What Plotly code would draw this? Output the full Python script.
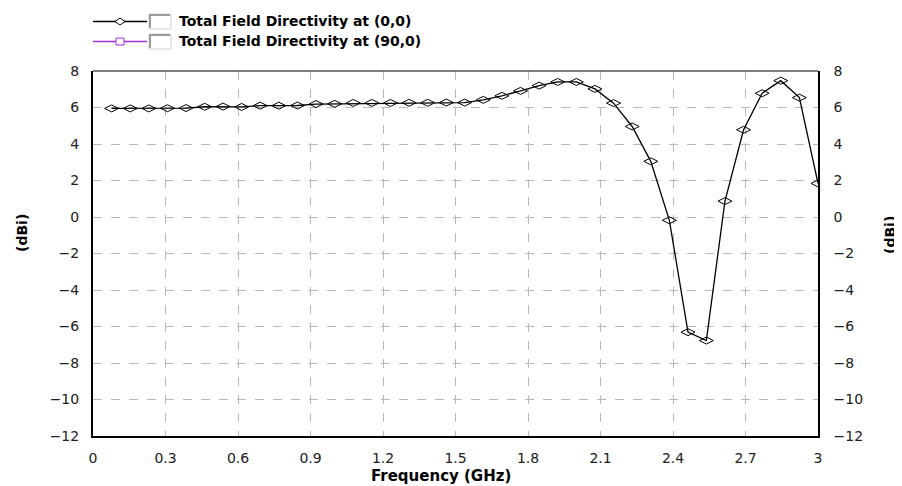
import plotly.graph_objects as go

# frequency samples (GHz) and total field directivity at (0,0) in dBi
freq = [0.077, 0.154, 0.231, 0.308, 0.385, 0.462, 0.538, 0.615, 0.692, 0.769,
        0.846, 0.923, 1.0, 1.077, 1.154, 1.231, 1.308, 1.385, 1.462, 1.538,
        1.615, 1.692, 1.769, 1.846, 1.923, 2.0, 2.077, 2.154, 2.231, 2.308,
        2.385, 2.462, 2.538, 2.615, 2.692, 2.769, 2.846, 2.923, 3.0]
dir_0_0 = [5.95, 5.95, 5.95, 5.96, 5.97, 6.04, 6.05, 6.03, 6.10, 6.10,
           6.11, 6.19, 6.20, 6.25, 6.25, 6.25, 6.26, 6.26, 6.27, 6.27,
           6.42, 6.64, 6.91, 7.20, 7.40, 7.40, 7.02, 6.24, 4.96, 3.05,
           -0.18, -6.31, -6.77, 0.87, 4.78, 6.78, 7.47, 6.54, 1.84]

legend_names = ["Total Field Directivity at (0,0)", "Total Field Directivity at (90,0)"]
legend_colors = ["#000000", "#a030e0"]

x_ticks = [0, 0.3, 0.6, 0.9, 1.2, 1.5, 1.8, 2.1, 2.4, 2.7, 3]
x_labels = ["0", "0.3", "0.6", "0.9", "1.2", "1.5", "1.8", "2.1", "2.4", "2.7", "3"]
y_ticks = list(range(-12, 9, 2))

W, H = 902, 486
OFF = 8  # page body margin of the html page
PLOT_L, PLOT_T, PLOT_W, PLOT_H = 93, 71, 725, 365  # plot box in screen pixels
FONT = "DejaVu Sans, Liberation Sans, Arial"

def px(x):
    return (x - PLOT_L) / PLOT_W

def py(y):
    return (PLOT_T + PLOT_H - y) / PLOT_H

fig = go.Figure()
fig.add_trace(go.Scatter(
    x = freq, y = dir_0_0, mode = "lines+markers", name = legend_names[0],
    line = dict(color = "black", width = 1.3),
    marker = dict(symbol = "diamond-wide-open", size = 10, color = "black",
                  line = dict(width = 1)),
    showlegend = False,
))
# keep the right-hand axis alive
fig.add_trace(go.Scatter(x = [], y = [], yaxis = "y2", showlegend = False))

grid = dict(showgrid = True, gridcolor = "#b8b8b8", gridwidth = 1, griddash = "dash")
tick_font = dict(family = FONT, size = 14, color = "#202020")

fig.update_layout(
    width = W, height = H,
    margin = dict(l = PLOT_L - OFF, t = PLOT_T - OFF,
                  r = W - (PLOT_L - OFF) - PLOT_W,
                  b = H - (PLOT_T - OFF) - PLOT_H),
    paper_bgcolor = "white", plot_bgcolor = "white",
    font = dict(family = FONT, size = 13, color = "black"),
    xaxis = dict(range = [0, 3], tickvals = x_ticks, ticktext = x_labels,
                 showline = True, linecolor = "black", linewidth = 2,
                 zeroline = False, ticks = "", tickfont = tick_font,
                 ticklabelstandoff = 8, **grid),
    yaxis = dict(range = [-12, 8], tickvals = y_ticks,
                 showline = True, linecolor = "black", linewidth = 2,
                 zeroline = False, ticks = "", tickfont = tick_font,
                 ticklabelstandoff = 9, **grid),
    yaxis2 = dict(range = [-12, 8], tickvals = y_ticks, overlaying = "y",
                  side = "right", showgrid = False, zeroline = False,
                  showline = True, linecolor = "black", linewidth = 1.5,
                  ticks = "", tickfont = tick_font, ticklabelstandoff = 11),
)

shapes = [
    # top frame edge
    dict(type = "line", xref = "paper", yref = "paper", x0 = 0, x1 = 1,
         y0 = 1, y1 = 1, line = dict(color = "black", width = 1.2)),
]
title_style = dict(xref = "paper", yref = "paper", showarrow = False,
                   xanchor = "center", yanchor = "middle")
annotations = [
    dict(text = "<b>Frequency (GHz)</b>", x = px(441), y = py(476),
         font = dict(size = 15), **title_style),
    dict(text = "<b>(dBi)</b>", x = px(22), y = py(233), textangle = -90,
         font = dict(size = 14), **title_style),
    dict(text = "<b>(dBi)</b>", x = px(890), y = py(235), textangle = -90,
         font = dict(size = 14), **title_style),
]

# hand-drawn legend with check boxes
for i, (name, color) in enumerate(zip(legend_names, legend_colors)):
    yc = 21.5 + 20 * i
    shapes.append(dict(type = "line", xref = "paper", yref = "paper",
                       x0 = px(93), x1 = px(147), y0 = py(yc), y1 = py(yc),
                       line = dict(color = color, width = 1.3)))
    if i == 0:
        path = "M {} {} L {} {} L {} {} L {} {} Z".format(
            px(115), py(yc), px(120), py(yc - 3.5),
            px(125), py(yc), px(120), py(yc + 3.5))
        shapes.append(dict(type = "path", xref = "paper", yref = "paper",
                           path = path, fillcolor = "white",
                           line = dict(color = color, width = 1)))
    else:
        shapes.append(dict(type = "rect", xref = "paper", yref = "paper",
                           x0 = px(116), x1 = px(124), y0 = py(yc - 3.5),
                           y1 = py(yc + 3.5), fillcolor = "white",
                           line = dict(color = color, width = 1)))
    shapes.append(dict(type = "rect", xref = "paper", yref = "paper",
                       x0 = px(149), x1 = px(171), y0 = py(yc - 7.5),
                       y1 = py(yc + 7.5), fillcolor = "white",
                       line = dict(color = "#d4d0c8", width = 1)))
    shapes.append(dict(type = "path", xref = "paper", yref = "paper",
                       path = "M {} {} L {} {} L {} {}".format(
                           px(150), py(yc + 6.5), px(150), py(yc - 6.5),
                           px(170), py(yc - 6.5)),
                       line = dict(color = "#808080", width = 1.5)))
    annotations.append(dict(text = "<b>" + name + "</b>", x = px(177),
                            y = py(yc), xref = "paper", yref = "paper",
                            xanchor = "left", yanchor = "middle",
                            showarrow = False, font = dict(size = 14)))

fig.update_layout(shapes = shapes, annotations = annotations)
fig.write_html("out.html")
